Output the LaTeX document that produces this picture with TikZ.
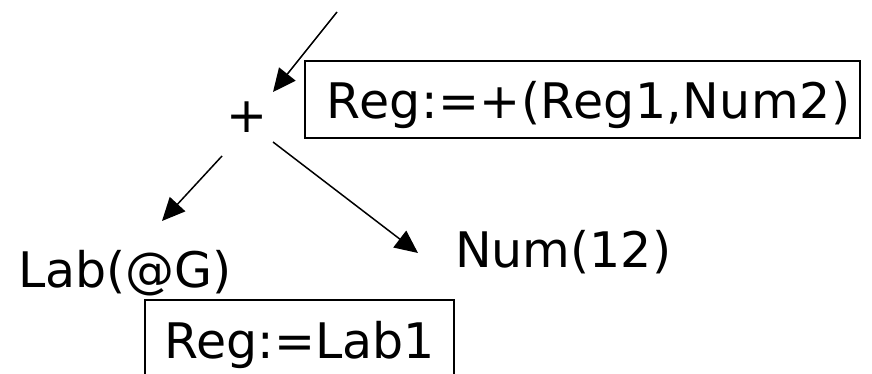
\documentclass[tikz,border=0pt]{standalone}
\usepackage{fontspec}
\setmainfont{DejaVu Sans}
\usetikzlibrary{arrows.meta,calc}

\tikzset{
  lbl/.style={inner sep=0pt, font=\fontsize{49}{57}\selectfont},
  regbox/.style={draw, line width=1.6pt, inner sep=0pt,
    minimum height=77pt, text height=40pt, text depth=1pt,
    font=\fontsize{49}{57}\selectfont},
  arr/.style={line width=1.5pt, -{Triangle[length=23pt,width=21pt]}}
}

\begin{document}
\begin{tikzpicture}[x=1pt,y=-1pt]
  \useasboundingbox (0,0) rectangle (872,374);
  \clip (0,0) rectangle (872,374);

  % tree nodes
  \node[lbl, anchor=base] (plus) at (247,133) {+};
  \node[lbl, anchor=base west] (lab) at (18,287) {Lab(@G)};
  \node[lbl, anchor=base west] (num) at (455,267) {Num(12)};

  % register assignments attached to the nodes
  \node[regbox, minimum width=555pt] (r1) at (582.5,99.5)
    {\hspace*{12pt}\addfontfeature{LetterSpace=0.9}Reg:=+(Reg1,Num2)};
  \node[regbox, minimum width=309pt] (r2) at (299.5,338.5) {Reg:=Lab1};

  % edges
  \coordinate (in) at (337,12);
  \draw[arr] (in) -- ($(plus.base)+(26,-41)$);
  \draw[arr] ($(plus.base)+(-25,23)$) -- ($(lab.base west)+(144,-66)$);
  \draw[arr] ($(plus.base)+(26,9)$) -- ($(num.base west)+(-37,-14)$);
\end{tikzpicture}
\end{document}
